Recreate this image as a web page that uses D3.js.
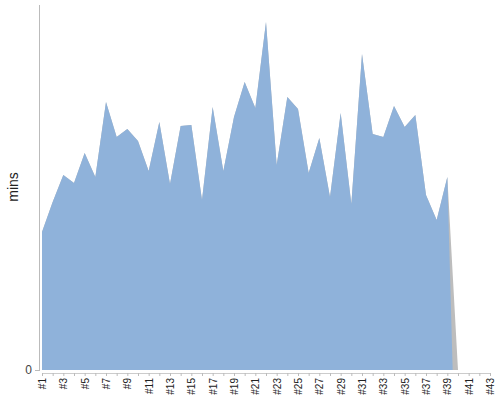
<!DOCTYPE html>
<html><head><meta charset="utf-8">
<script src="https://cdn.jsdelivr.net/npm/d3@7"></script>
<style>body{margin:0;background:#fff}svg{display:block}</style>
</head><body>
<script>
const categories = d3.range(1, 44).map(i => "#" + i);
const tickLabels = categories.filter((c, i) => i % 2 === 0);
const mins = [138,168,195,187,217,193,268,233,241,229,199,248,186,244,245,170,263,199,253,288,
              262,348,205,273,261,197,232,173,257,166,316,236,233,264,243,255,175,150,193,0];
const yMax = 365;

const W = 500, H = 400;
const svg = d3.select("body").append("svg").attr("width", W).attr("height", H);
const x = d3.scalePoint().domain(categories).range([42, 490]);
const y = d3.scaleLinear().domain([0, yMax]).range([370, 5]);

const pts = mins.map((v, i) => ({x: x(categories[i]), v}));
// gray full series (drawn behind)
const area = d3.area().x(d => d.x).y0(y(0)).y1(d => y(d.v));
svg.append("path").datum(pts).attr("d", area).attr("fill", "#bdbdbd");
// blue series ending halfway into the last interval
const n = mins.length;
const bluePts = pts.slice(0, n - 1).concat([{x: (pts[n-2].x + pts[n-1].x) / 2, v: 0}]);
svg.append("path").datum(bluePts).attr("d", area).attr("fill", "#8fb2da");

// y axis
svg.append("line").attr("x1", 39.5).attr("x2", 39.5).attr("y1", 5).attr("y2", 371)
  .attr("stroke", "#bbb").attr("stroke-width", 1);
svg.append("line").attr("x1", 35).attr("x2", 39).attr("y1", y(0) + 0.5).attr("y2", y(0) + 0.5)
  .attr("stroke", "#bbb");
svg.append("text").attr("x", 32).attr("y", y(0) + 4).attr("text-anchor", "end")
  .attr("font-family", "Liberation Sans, Arial, sans-serif").attr("font-size", 12).attr("fill", "#444").text("0");
svg.append("text").attr("transform", "translate(18,187) rotate(-90)").attr("text-anchor", "middle")
  .attr("font-family", "Liberation Sans, Arial, sans-serif").attr("font-size", 14).attr("fill", "#222").text("mins");

// x axis
const xa = d3.axisBottom(x).tickSizeInner(3).tickSizeOuter(0)
  .tickFormat(d => tickLabels.includes(d) ? d : "");
const g = svg.append("g").attr("transform", "translate(0,373)").call(xa);
g.select(".domain").attr("stroke", "#ccc");
g.selectAll(".tick line").attr("stroke", "#bbb");
g.selectAll(".tick text")
  .attr("font-family", "Liberation Sans, Arial, sans-serif").attr("font-size", 10).attr("fill", "#222")
  .attr("transform", "rotate(-90)").attr("text-anchor", "end")
  .attr("x", -5).attr("y", 0).attr("dy", "0.35em");
</script>
</body></html>
